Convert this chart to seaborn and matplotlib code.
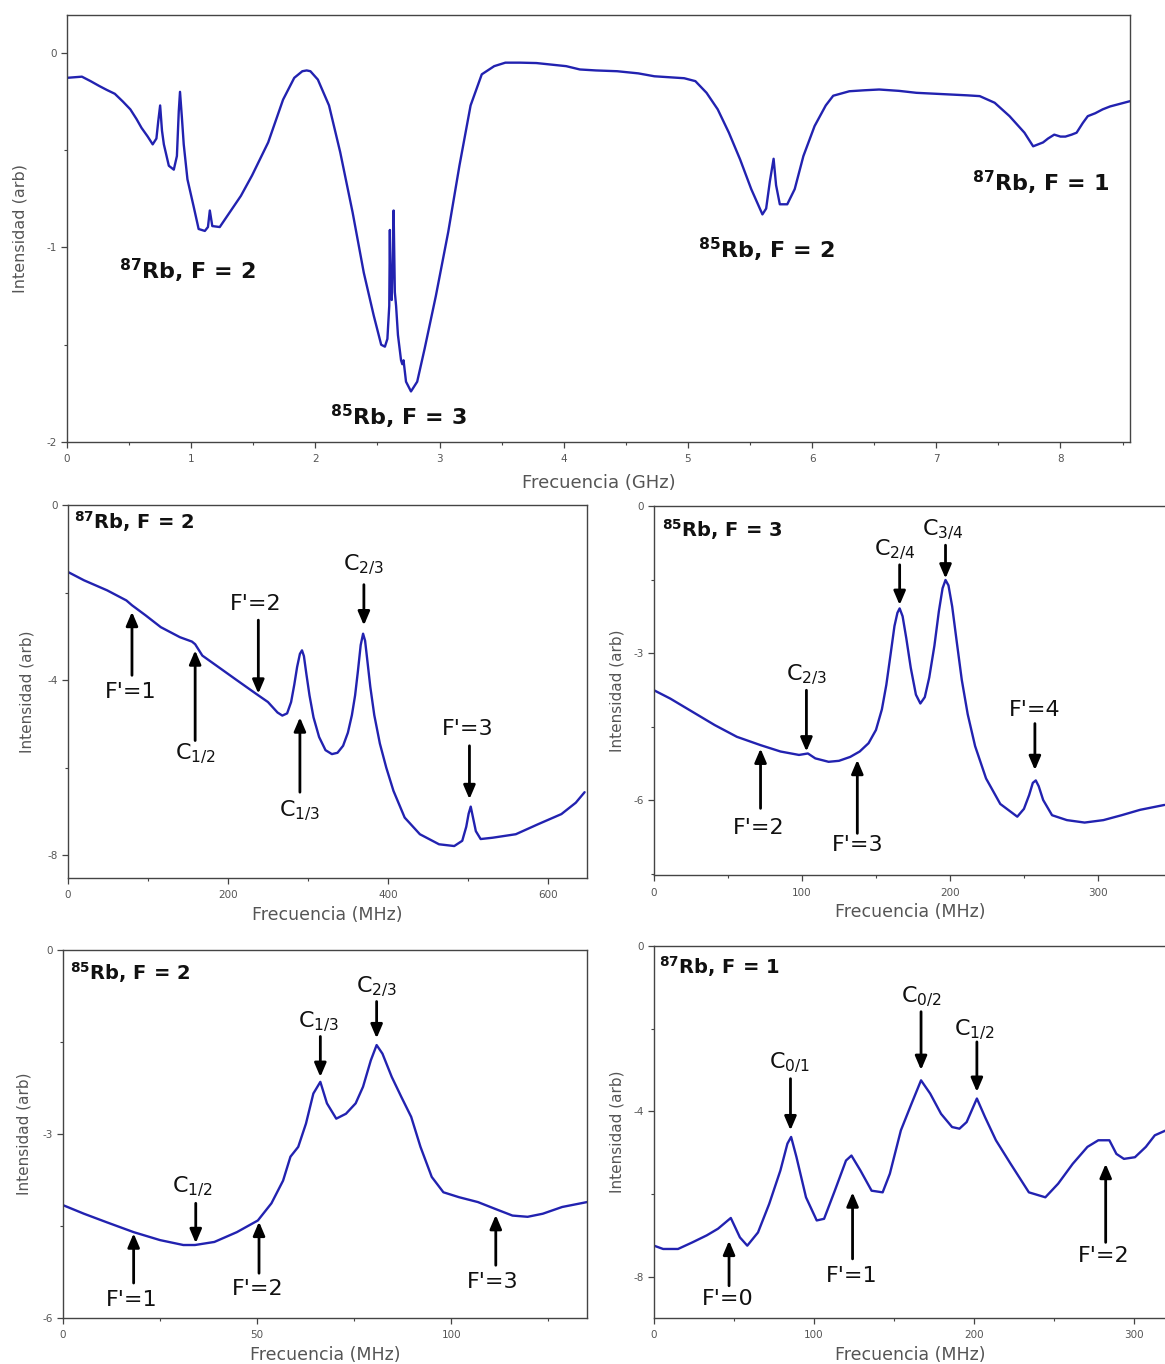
import matplotlib
matplotlib.use("Agg")
import matplotlib.pyplot as plt
from matplotlib.ticker import MultipleLocator, FormatStrFormatter
import seaborn as sns
import pandas as pd

# ---------------- data ----------------
overview_ghz = [(0.00,-0.128),(0.06,-0.125),(0.12,-0.122),(0.19,-0.145),(0.26,-0.17),(0.32,-0.19),
    (0.385,-0.21),(0.45,-0.25),(0.51,-0.29),(0.56,-0.34),(0.60,-0.385),(0.65,-0.43),(0.69,-0.47),
    (0.72,-0.44),(0.735,-0.35),(0.75,-0.27),(0.765,-0.40),(0.78,-0.47),(0.82,-0.58),(0.86,-0.60),
    (0.885,-0.53),(0.90,-0.30),(0.91,-0.20),(0.925,-0.33),(0.94,-0.47),(0.97,-0.65),(1.02,-0.79),
    (1.06,-0.905),(1.11,-0.915),(1.135,-0.895),(1.15,-0.81),(1.17,-0.89),(1.23,-0.895),(1.31,-0.82),
    (1.40,-0.735),(1.49,-0.63),(1.62,-0.46),(1.74,-0.24),(1.83,-0.128),(1.895,-0.094),(1.93,-0.09),
    (1.96,-0.094),(2.02,-0.137),(2.11,-0.27),(2.20,-0.51),(2.30,-0.82),(2.39,-1.13),(2.47,-1.35),
    (2.53,-1.50),(2.56,-1.51),(2.58,-1.47),(2.595,-1.30),(2.60,-0.91),(2.605,-1.25),(2.615,-1.27),
    (2.625,-1.00),(2.63,-0.81),(2.64,-1.23),(2.65,-1.30),(2.665,-1.45),(2.69,-1.58),(2.70,-1.60),
    (2.71,-1.58),(2.73,-1.69),(2.77,-1.74),(2.82,-1.69),(2.88,-1.52),(2.97,-1.25),(3.07,-0.92),
    (3.16,-0.58),(3.25,-0.27),(3.34,-0.11),(3.44,-0.068),(3.53,-0.05),(3.65,-0.05),(3.78,-0.052),
    (3.90,-0.06),(4.02,-0.068),(4.13,-0.085),(4.26,-0.09),(4.43,-0.094),(4.60,-0.105),(4.73,-0.12),
    (4.85,-0.125),(4.97,-0.13),(5.06,-0.145),(5.15,-0.205),(5.24,-0.29),(5.33,-0.41),(5.42,-0.547),
    (5.51,-0.70),(5.57,-0.786),(5.60,-0.83),(5.63,-0.80),(5.66,-0.66),(5.69,-0.544),(5.71,-0.68),
    (5.74,-0.778),(5.80,-0.778),(5.86,-0.70),(5.93,-0.53),(6.02,-0.376),(6.11,-0.27),(6.17,-0.22),
    (6.30,-0.197),(6.42,-0.192),(6.54,-0.188),(6.70,-0.195),(6.84,-0.205),(7.00,-0.21),(7.14,-0.214),
    (7.25,-0.218),(7.35,-0.222),(7.47,-0.256),(7.59,-0.325),(7.71,-0.41),(7.78,-0.48),(7.82,-0.47),
    (7.86,-0.46),(7.90,-0.44),(7.95,-0.42),(8.00,-0.43),(8.04,-0.43),(8.09,-0.42),(8.13,-0.41),
    (8.18,-0.36),(8.22,-0.325),(8.28,-0.31),(8.34,-0.29),(8.40,-0.275),(8.46,-0.265),(8.56,-0.248)]

rb87_f2 = [(0,-1.53),(20,-1.72),(49,-1.95),(73,-2.18),(80,-2.29),(97,-2.52),(116,-2.79),(140,-3.02),
    (155,-3.12),(159,-3.18),(168,-3.44),(188,-3.70),(211,-4.00),(235,-4.31),(250,-4.50),(262,-4.74),
    (268,-4.81),(274,-4.76),(279,-4.50),(283,-4.10),(286.5,-3.70),(290,-3.40),(292.6,-3.32),
    (295,-3.45),(298,-3.85),(302,-4.35),(307,-4.85),(314,-5.30),(322,-5.60),(330,-5.69),(337,-5.66),
    (344,-5.50),(350,-5.20),(355,-4.80),(359,-4.35),(362.5,-3.80),(366,-3.20),(369,-2.94),(371.5,-3.10),
    (374,-3.50),(378,-4.15),(383,-4.80),(390,-5.45),(398,-6.00),(407,-6.53),(421,-7.14),(440,-7.52),
    (464,-7.75),(483,-7.79),(493,-7.67),(498,-7.35),(501,-7.05),(503.6,-6.89),(506,-7.10),(510,-7.45),
    (516,-7.63),(531,-7.60),(560,-7.52),(588,-7.29),(617,-7.06),(635,-6.80),(646,-6.56)]

rb85_f3 = [(0,-3.76),(11,-3.93),(26,-4.20),(41,-4.47),(56,-4.71),(72,-4.88),(85.5,-5.01),(98,-5.08),
    (104,-5.05),(109,-5.15),(118,-5.22),(125,-5.20),(132.6,-5.12),(139,-5.01),(145,-4.84),(150,-4.57),
    (154,-4.15),(157,-3.65),(160,-3.00),(162.5,-2.45),(164.5,-2.18),(166,-2.09),(168,-2.25),(170.5,-2.70),
    (173.5,-3.30),(177,-3.85),(180,-4.03),(183,-3.90),(186,-3.50),(189.5,-2.85),(192.5,-2.15),
    (195,-1.68),(197,-1.51),(199,-1.62),(201.5,-2.05),(204.5,-2.75),(208,-3.55),(212,-4.25),(217,-4.90),
    (224.4,-5.56),(234,-6.08),(245.5,-6.34),(250,-6.18),(253.5,-5.90),(256,-5.65),(258,-5.60),
    (260,-5.72),(263,-6.00),(269,-6.31),(279,-6.41),(291,-6.46),(303.7,-6.41),(316,-6.31),(328.5,-6.20),
    (345,-6.10)]

rb85_f2 = [(0,-4.16),(5.4,-4.30),(11.3,-4.44),(18.2,-4.60),(25,-4.73),(31,-4.81),(34,-4.81),(39,-4.76),
    (44.8,-4.60),(50.2,-4.41),(53.7,-4.13),(56.7,-3.76),(58.6,-3.37),(60.6,-3.21),(62.6,-2.83),
    (64.5,-2.34),(66.3,-2.15),(68,-2.50),(70.4,-2.75),(72.9,-2.67),(75.4,-2.50),(77.3,-2.23),(79.3,-1.80),
    (80.8,-1.55),(82.3,-1.69),(84.7,-2.07),(87.2,-2.40),(89.7,-2.72),(92.1,-3.21),(95,-3.70),(98,-3.95),
    (102,-4.03),(106.9,-4.11),(111.3,-4.22),(115.8,-4.33),(119.7,-4.35),(123.6,-4.30),(128.6,-4.19),
    (135,-4.11)]

rb87_f1 = [(0,-7.25),(5.7,-7.33),(15,-7.33),(24,-7.17),(33,-7.00),(40,-6.84),(48,-6.58),(53.7,-7.05),
    (58.3,-7.25),(65,-6.93),(72,-6.24),(79,-5.43),(83.4,-4.78),(85.7,-4.62),(89,-5.10),(95,-6.08),
    (101.7,-6.64),(106.3,-6.60),(113,-5.92),(120,-5.19),(123.4,-5.07),(129,-5.43),(136,-5.92),
    (142.9,-5.96),(147.4,-5.51),(154.3,-4.46),(161,-3.81),(166.9,-3.25),(172.6,-3.57),(179.4,-4.06),
    (186.3,-4.38),(190.9,-4.42),(195.4,-4.26),(201.8,-3.69),(206.9,-4.14),(213.7,-4.70),(222.9,-5.27),
    (234.3,-5.96),(244.6,-6.08),(252.6,-5.75),(261.7,-5.27),(270.9,-4.86),(277.7,-4.70),(284.6,-4.70),
    (289,-5.03),(293.7,-5.15),(300.6,-5.11),(307.4,-4.86),(313,-4.58),(320,-4.46)]

# big labels in overview: (text, x, y)
overview_labels = [(r"$^{\mathbf{87}}$Rb, F = 2", 0.97, -1.12),
                   (r"$^{\mathbf{85}}$Rb, F = 3", 2.67, -1.87),
                   (r"$^{\mathbf{85}}$Rb, F = 2", 5.63, -1.01),
                   (r"$^{\mathbf{87}}$Rb, F = 1", 7.84, -0.667)]

# arrows: (label, label_x, label_y, arrow_x, tail_y, head_y)
rb87_f2_marks = [("F'=1", 78, -4.27, 80, -3.89, -2.44),
                 (r"C$_{1/2}$", 159, -5.69, 159, -5.38, -3.32),
                 ("F'=2", 235, -2.25, 238, -2.63, -4.31),
                 (r"C$_{1/3}$", 290, -6.98, 290, -6.56, -4.85),
                 (r"C$_{2/3}$", 370, -1.37, 370, -1.82, -2.75),
                 ("F'=3", 500, -5.11, 502, -5.50, -6.72)]
rb85_f3_marks = [(r"C$_{2/4}$", 163, -0.90, 166, -1.20, -2.02),
                 (r"C$_{3/4}$", 195.5, -0.48, 197, -0.80, -1.48),
                 (r"C$_{2/3}$", 103, -3.45, 103, -3.76, -5.01),
                 ("F'=2", 70.5, -6.58, 72, -6.17, -4.95),
                 ("F'=3", 137.4, -6.92, 137.4, -6.68, -5.18),
                 ("F'=4", 257.4, -4.16, 257.4, -4.44, -5.39)]
rb85_f2_marks = [("F'=1", 17.7, -5.71, 18.2, -5.43, -4.62),
                 (r"C$_{1/2}$", 33.2, -3.86, 34.2, -4.13, -4.78),
                 ("F'=2", 50.2, -5.52, 50.5, -5.27, -4.43),
                 (r"C$_{1/3}$", 65.8, -1.17, 66.3, -1.41, -2.07),
                 (r"C$_{2/3}$", 80.8, -0.60, 80.8, -0.84, -1.44),
                 ("F'=3", 110.8, -5.41, 111.5, -5.14, -4.32)]
rb87_f1_marks = [("F'=0", 46.4, -8.54, 46.9, -8.22, -7.13),
                 (r"C$_{0/1}$", 84.6, -2.84, 85.3, -3.21, -4.46),
                 ("F'=1", 123.4, -7.98, 124.1, -7.57, -5.96),
                 (r"C$_{0/2}$", 166.9, -1.23, 166.9, -1.59, -3.00),
                 (r"C$_{1/2}$", 200, -2.04, 201.8, -2.32, -3.53),
                 ("F'=2", 281, -7.49, 282.3, -7.17, -5.27)]

panel_titles = [r"$^{\mathbf{87}}$Rb, F = 2", r"$^{\mathbf{85}}$Rb, F = 3",
                r"$^{\mathbf{85}}$Rb, F = 2", r"$^{\mathbf{87}}$Rb, F = 1"]

# ---------------- style ----------------
sns.set_style("ticks")
plt.rcParams["font.family"] = ["DejaVu Sans"]
plt.rcParams["mathtext.fontset"] = "dejavusans"
plt.rcParams["axes.unicode_minus"] = False

LINE = "#2222b0"
SPINE = "#444444"
TICKC = "#555555"

W, H = 1165, 1364
fig = plt.figure(figsize=(W / 100, H / 100), dpi=100)


def box(l, r, t, b):
    return [l / W, 1 - b / H, (r - l) / W, (b - t) / H]


def style_axes(ax, xmaj, xmin, ymaj, ymin, xlabel, xlab_size=12.5, ylab_size=11,
               xpad=4, ypad=6):
    ax.xaxis.set_major_locator(MultipleLocator(xmaj))
    ax.xaxis.set_minor_locator(MultipleLocator(xmin))
    ax.yaxis.set_major_locator(MultipleLocator(ymaj))
    ax.yaxis.set_minor_locator(MultipleLocator(ymin))
    ax.xaxis.set_major_formatter(FormatStrFormatter("%g"))
    ax.yaxis.set_major_formatter(FormatStrFormatter("%g"))
    ax.tick_params(which="major", direction="out", length=4, width=0.9, color=SPINE,
                   labelsize=7.5, labelcolor=TICKC)
    ax.tick_params(axis="x", which="major", pad=5)
    ax.tick_params(axis="y", which="major", pad=3)
    ax.tick_params(which="minor", direction="out", length=2.5, width=0.8, color=SPINE)
    for s in ax.spines.values():
        s.set_color(SPINE)
        s.set_linewidth(1.0)
    ax.set_xlabel(xlabel, fontsize=xlab_size, color=TICKC, labelpad=xpad)
    ax.set_ylabel("Intensidad (arb)", fontsize=ylab_size, color=TICKC, labelpad=ypad)


def draw_curve(ax, pts):
    df = pd.DataFrame(pts, columns=["f", "I"])
    sns.lineplot(data=df, x="f", y="I", ax=ax, color=LINE, lw=1.7, estimator=None, sort=False)


def draw_marks(ax, marks):
    for lab, lx, ly, ax_x, ty, hy in marks:
        ax.annotate("", xy=(ax_x, hy), xytext=(ax_x, ty),
                    arrowprops=dict(arrowstyle="-|>,head_length=0.75,head_width=0.32",
                                    color="black", lw=2.0, shrinkA=0, shrinkB=0,
                                    mutation_scale=11))
        ax.text(lx, ly, lab, ha="center", va="center", fontsize=16, color="#111111")


# ---- overview
ax0 = fig.add_axes(box(67, 1130, 15, 442))
draw_curve(ax0, overview_ghz)
ax0.set_xlim(0, 8.56)
ax0.set_ylim(-2, 0.195)
style_axes(ax0, 1, 0.5, 1, 0.5, "Frecuencia (GHz)", xlab_size=13, ylab_size=11.5,
           xpad=7, ypad=14)
for txt, x, y in overview_labels:
    ax0.text(x, y, txt, ha="center", va="center", fontsize=16, fontweight="bold", color="#111111")

# ---- 87Rb F=2
ax1 = fig.add_axes(box(68, 587, 505, 878))
draw_curve(ax1, rb87_f2)
ax1.set_xlim(0, 649)
ax1.set_ylim(-8.52, 0)
style_axes(ax1, 200, 100, 4, 2, "Frecuencia (MHz)", ypad=10)
draw_marks(ax1, rb87_f2_marks)

# ---- 85Rb F=3
ax2 = fig.add_axes(box(654, 1166, 506, 875))
draw_curve(ax2, rb85_f3)
ax2.set_xlim(0, 346)
ax2.set_ylim(-7.53, 0)
style_axes(ax2, 100, 50, 3, 1.5, "Frecuencia (MHz)", ypad=7)
ax2.spines["right"].set_visible(False)
draw_marks(ax2, rb85_f3_marks)

# ---- 85Rb F=2
ax3 = fig.add_axes(box(63, 587, 950, 1318))
draw_curve(ax3, rb85_f2)
ax3.set_xlim(0, 135)
ax3.set_ylim(-6, 0)
style_axes(ax3, 50, 25, 3, 1.5, "Frecuencia (MHz)", ypad=8)
draw_marks(ax3, rb85_f2_marks)

# ---- 87Rb F=1
ax4 = fig.add_axes(box(654, 1166, 946, 1318))
draw_curve(ax4, rb87_f1)
ax4.set_xlim(0, 320)
ax4.set_ylim(-9, 0)
style_axes(ax4, 100, 50, 4, 2, "Frecuencia (MHz)", ypad=7)
ax4.spines["right"].set_visible(False)
draw_marks(ax4, rb87_f1_marks)

title_pos = [(ax1, 0.012, 0.955), (ax2, 0.016, 0.935), (ax3, 0.013, 0.94), (ax4, 0.01, 0.944)]
for (a, x, y), t in zip(title_pos, panel_titles):
    a.text(x, y, t, transform=a.transAxes, ha="left", va="center", fontsize=14,
           fontweight="bold", color="#111111")

fig.savefig("out.png", dpi=100)
